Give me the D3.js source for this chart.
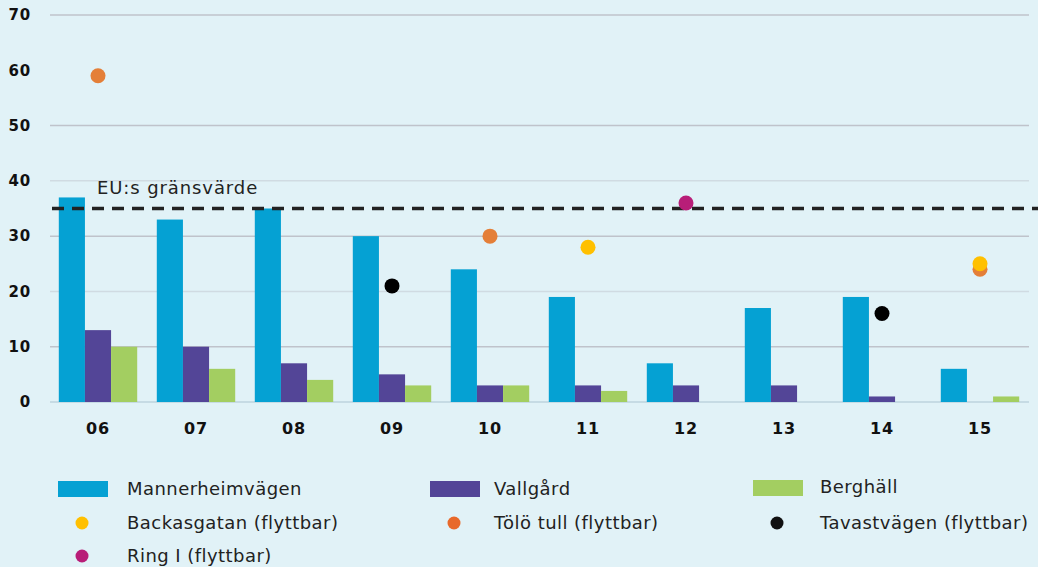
<!DOCTYPE html>
<html>
<head>
<meta charset="utf-8">
<script src="https://cdn.jsdelivr.net/npm/d3@7"></script>
<style>
  body { margin: 0; background: #e1f2f7; }
  svg { display: block; font-family: "DejaVu Sans", sans-serif; }
</style>
</head>
<body>
<svg id="chart" width="1038" height="567"></svg>
<script>
// years (x categories)
const years = ['06', '07', '08', '09', '10', '11', '12', '13', '14', '15'];

// fixed stations (bars)
const mannerheim = [37, 33, 35, 30, 24, 19, 7, 17, 19, 6];
const vallgard   = [13, 10, 7, 5, 3, 3, 3, 3, 1, 0];
const berghall   = [10, 6, 4, 3, 3, 2, 0, 0, 0, 1];

// mobile stations (dots), null = no measurement
const backas = [null, null, null, null, null, 28, null, null, null, 25];
const tolo   = [59, null, null, null, 30, null, null, null, null, 24];
const tavast = [null, null, null, 21, null, null, null, null, 16, null];
const ring   = [null, null, null, null, null, null, 36, null, null, null];

const yTicks = [0, 10, 20, 30, 40, 50, 60, 70];
const euLimit = 35;

const barSeries = [
  {name: 'Mannerheimvägen', values: mannerheim, color: '#05a1d3'},
  {name: 'Vallgård', values: vallgard, color: '#534597'},
  {name: 'Berghäll', values: berghall, color: '#a3ce61'}
];
const dotSeries = [
  {name: 'Tölö tull (flyttbar)', values: tolo, color: '#e47f38'},
  {name: 'Backasgatan (flyttbar)', values: backas, color: '#ffc000'},
  {name: 'Tavastvägen (flyttbar)', values: tavast, color: '#000000'},
  {name: 'Ring I (flyttbar)', values: ring, color: '#b81e78'}
];

const svg = d3.select('#chart');
svg.append('rect').attr('width', 1038).attr('height', 567).attr('fill', '#e1f2f7');

const x = d3.scaleBand().domain(years).range([49, 1029]).paddingInner(0.2).paddingOuter(0.1);
const x1 = d3.scaleBand().domain(barSeries.map(d => d.name)).range([0, x.bandwidth()]);
const y = d3.scaleLinear().domain([0, 70]).range([402, 15]);

// gridlines (the original has no line at 60, faint at 40/20)
const gridColor = v => v === 0 ? '#c6dbe4' : (v === 40 || v === 20) ? '#d0dbe2' : '#bfc3cb';
svg.append('g')
  .selectAll('line')
  .data(yTicks.filter(v => v !== 60))
  .join('line')
  .attr('x1', 50).attr('x2', 1029)
  .attr('y1', d => y(d)).attr('y2', d => y(d))
  .attr('stroke', gridColor)
  .attr('stroke-width', d => d === 0 ? 2 : 1.5);

// y axis labels
const yAxis = svg.append('g')
  .attr('transform', 'translate(31,0)')
  .call(d3.axisLeft(y).tickValues(yTicks).tickSize(0).tickPadding(0));
yAxis.select('.domain').remove();
yAxis.selectAll('text')
  .attr('font-family', 'DejaVu Sans')
  .attr('font-weight', 'bold')
  .attr('font-size', 15)
  .attr('letter-spacing', 0.8)
  .attr('fill', '#111');

// x axis labels
const xAxis = svg.append('g')
  .attr('transform', 'translate(0,423)')
  .call(d3.axisBottom(x).tickSize(0).tickPadding(0));
xAxis.select('.domain').remove();
xAxis.selectAll('text')
  .attr('font-family', 'DejaVu Sans')
  .attr('font-weight', 'bold')
  .attr('font-size', 16)
  .attr('letter-spacing', 0.8)
  .attr('fill', '#111');

// bars
const groups = svg.append('g')
  .selectAll('g')
  .data(years)
  .join('g')
  .attr('transform', d => `translate(${x(d)},0)`);

groups.selectAll('rect')
  .data((yr, i) => barSeries.map(s => ({name: s.name, color: s.color, value: s.values[i]})))
  .join('rect')
  .filter(d => d.value > 0)
  .attr('x', d => x1(d.name))
  .attr('width', x1.bandwidth())
  .attr('y', d => y(d.value))
  .attr('height', d => y(0) - y(d.value))
  .attr('fill', d => d.color);

// EU limit
svg.append('line')
  .attr('x1', 52).attr('x2', 1038)
  .attr('y1', y(euLimit)).attr('y2', y(euLimit))
  .attr('stroke', '#222')
  .attr('stroke-width', 3.5)
  .attr('stroke-dasharray', '12,8');

svg.append('text')
  .attr('x', 97).attr('y', y(euLimit) - 15)
  .attr('font-size', 18)
  .attr('letter-spacing', 0.9)
  .attr('fill', '#222')
  .text('EU:s gränsvärde');

// dots
dotSeries.forEach(s => {
  svg.append('g')
    .selectAll('circle')
    .data(years.map((yr, i) => ({yr, v: s.values[i]})).filter(d => d.v != null))
    .join('circle')
    .attr('cx', d => x(d.yr) + x.bandwidth() / 2)
    .attr('cy', d => y(d.v))
    .attr('r', 7.5)
    .attr('fill', s.color);
});

// legend
const legendItems = [
  {name: 'Mannerheimvägen', color: '#05a1d3', type: 'rect', col: 0, row: 0},
  {name: 'Vallgård', color: '#534597', type: 'rect', col: 1, row: 0},
  {name: 'Berghäll', color: '#a3ce61', type: 'rect', col: 2, row: 0},
  {name: 'Backasgatan (flyttbar)', color: '#ffc000', type: 'dot', col: 0, row: 1},
  {name: 'Tölö tull (flyttbar)', color: '#e8692a', type: 'dot', col: 1, row: 1},
  {name: 'Tavastvägen (flyttbar)', color: '#111', type: 'dot', col: 2, row: 1},
  {name: 'Ring I (flyttbar)', color: '#b81e78', type: 'dot', col: 0, row: 2}
];
const colX = [58, 430, 753];
const textX = [127, 494, 820];
const rowY = [489, 523, 556];

const leg = svg.append('g')
  .selectAll('g')
  .data(legendItems)
  .join('g');

leg.filter(d => d.type === 'rect').append('rect')
  .attr('x', d => colX[d.col]).attr('y', d => rowY[d.row] - 8 - (d.col === 2 ? 1 : 0))
  .attr('width', 50).attr('height', 16)
  .attr('fill', d => d.color);

leg.filter(d => d.type === 'dot').append('circle')
  .attr('cx', d => colX[d.col] + 24).attr('cy', d => rowY[d.row])
  .attr('r', 6.5)
  .attr('fill', d => d.color);

leg.append('text')
  .attr('x', d => textX[d.col]).attr('y', d => rowY[d.row] - (d.col === 2 && d.row === 0 ? 2 : 0))
  .attr('dy', '0.35em')
  .attr('font-size', 18)
  .attr('letter-spacing', 0.45)
  .attr('fill', '#222')
  .text(d => d.name);
</script>
</body>
</html>
